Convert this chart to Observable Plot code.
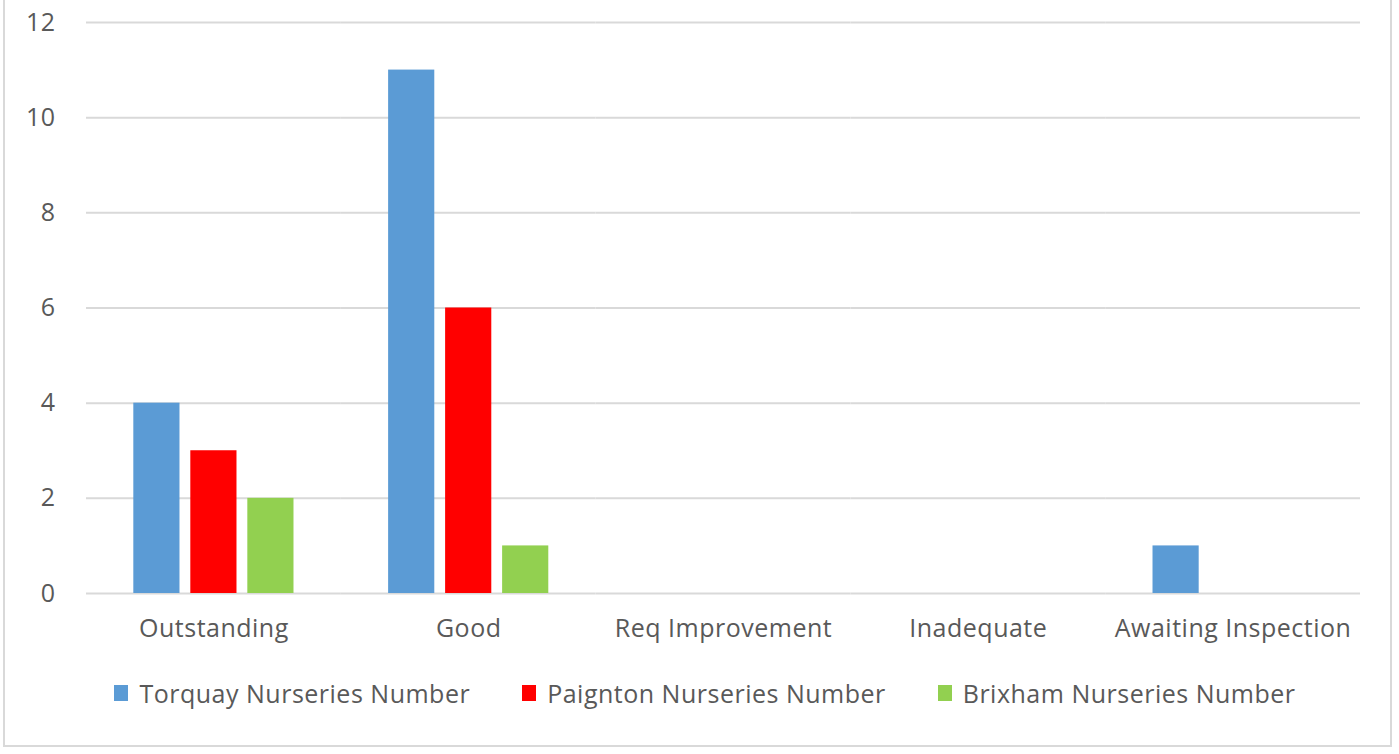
<!DOCTYPE html>
<html>
<head>
<meta charset="utf-8">
<script src="https://cdn.jsdelivr.net/npm/d3@7"></script>
<script src="https://cdn.jsdelivr.net/npm/@observablehq/plot@0.6"></script>
<style>
  html, body { margin: 0; padding: 0; background: #fff; width: 1399px; height: 754px; overflow: hidden; }
  #frame { position: absolute; left: 3px; top: -10px; width: 1389px; height: 757px; border: 2px solid #d9d9d9; box-sizing: border-box; }
  #chart { position: absolute; left: 0; top: 0; }
  #legend { position: absolute; left: 0; top: 676px; width: 1399px; box-sizing: border-box; padding-left: 11px; display: flex; justify-content: center; font-family: "Open Sans", sans-serif; font-size: 25px; letter-spacing: 0.5px; color: #595959; line-height: 34px; }
  .item { display: flex; align-items: center; margin: 0 26px; }
  .sw { width: 14px; height: 16px; margin-right: 11px; }
</style>
</head>
<body>
<div id="frame"></div>
<div id="chart"></div>
<div id="legend"></div>
<script>
const categories = ["Outstanding", "Good", "Req Improvement", "Inadequate", "Awaiting Inspection"];
const seriesNames = ["Torquay Nurseries Number", "Paignton Nurseries Number", "Brixham Nurseries Number"];
const torquay = [4, 11, 0, 0, 1];
const paignton = [3, 6, 0, 0, 0];
const brixham = [2, 1, 0, 0, 0];
const colors = ["#5b9bd5", "#ff0000", "#92d050"];
const yTicks = [0, 2, 4, 6, 8, 10, 12];

const seriesValues = [torquay, paignton, brixham];
const data = [];
categories.forEach((c, i) => {
  seriesNames.forEach((s, j) => data.push({category: c, series: s, value: seriesValues[j][i]}));
});

const plot = Plot.plot({
  width: 1399,
  height: 660,
  marginLeft: 86,
  marginRight: 39,
  marginTop: 22,
  marginBottom: 67,
  style: {fontFamily: "'Open Sans', sans-serif", fontSize: "25px", letterSpacing: "0.5px", color: "#595959", background: "transparent"},
  fx: {domain: categories, padding: 0, round: false, label: null},
  x: {domain: seriesNames, paddingInner: 0.19, paddingOuter: 0.83, round: false, axis: null},
  y: {domain: [0, 12], ticks: yTicks, label: null},
  color: {domain: seriesNames, range: colors},
  marks: [
    Plot.ruleY(yTicks, {stroke: "#d9d9d9", strokeWidth: 2}),
    Plot.barY(data, {fx: "category", x: "series", y: "value", fill: "series"}),
    Plot.axisY({ticks: yTicks, tickSize: 0, tickPadding: 31, label: null, fill: "#595959"}),
    Plot.axisFx({anchor: "bottom", tickSize: 0, tickPadding: 26, label: null, fill: "#595959"})
  ]
});
document.getElementById("chart").appendChild(plot);

const legend = document.getElementById("legend");
seriesNames.forEach((s, j) => {
  const it = document.createElement("div");
  it.className = "item";
  const sw = document.createElement("span");
  sw.className = "sw";
  sw.style.background = colors[j];
  const t = document.createElement("span");
  t.textContent = s;
  it.appendChild(sw); it.appendChild(t);
  legend.appendChild(it);
});
</script>
</body>
</html>
